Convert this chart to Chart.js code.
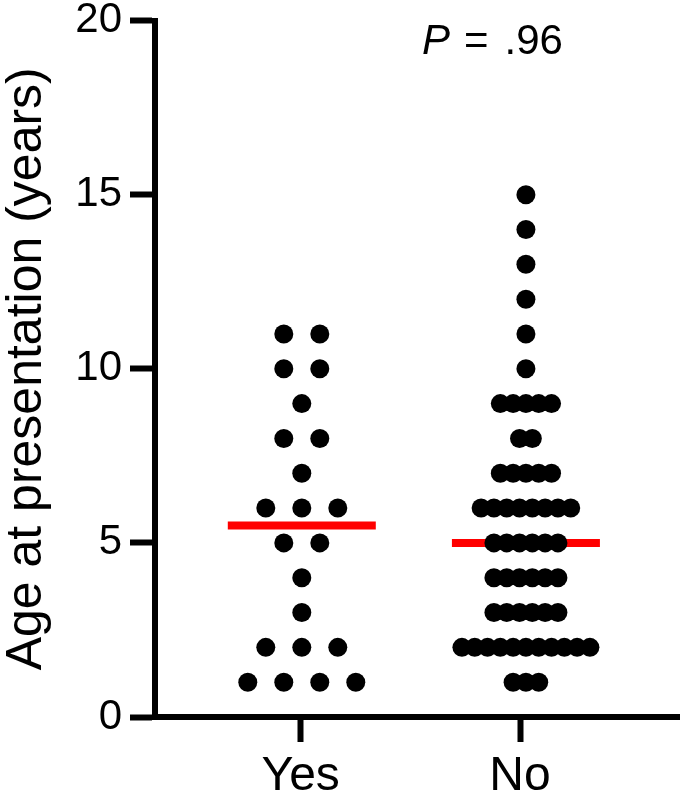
<!DOCTYPE html>
<html lang="en">
<head>
    <meta charset="UTF-8">
    <title>Age at presentation</title>
    <script src="https://cdn.jsdelivr.net/npm/chart.js"></script>
    <style>
        body {
            margin: 0;
            background: #fff;
        }
        .chart-container {
            width: 680px;
            height: 800px;
        }
    </style>
</head>
<body>
    <div class="chart-container">
        <canvas id="ageChart"></canvas>
    </div>
    <script>
        const groups = ['Yes', 'No'];
        const yesAges = [11, 11, 10, 10, 9, 8, 8, 7, 6, 6, 6, 5, 5, 4, 3, 2, 2, 2, 1, 1, 1, 1];
        const noAges = [15, 14, 13, 12, 11, 10,
            9, 9, 9, 9, 9, 8, 8,
            7, 7, 7, 7, 7,
            6, 6, 6, 6, 6, 6, 6, 6,
            5, 5, 5, 5, 5, 5,
            4, 4, 4, 4, 4, 4,
            3, 3, 3, 3, 3, 3,
            2, 2, 2, 2, 2, 2, 2, 2, 2, 2, 2,
            1, 1, 1];
        const medians = [5.5, 5];
        const yTicks = [0, 5, 10, 15, 20];
        const pLabel = '.96';

        const FONT = '"Liberation Sans", Arial, sans-serif';
        const PX_PER_X = 219.3;
        // dot spacing (px) and slight centre shift for each column
        const dotGap = [36, 12.8];
        const colShift = [0.005, 0.027];

        // lay out the dots of one column side by side, per value
        function swarm(values, col) {
            const counts = {};
            values.forEach(v => counts[v] = (counts[v] || 0) + 1);
            const seen = {};
            return values.map(v => {
                const i = seen[v] = (seen[v] === undefined ? 0 : seen[v] + 1);
                const off = (i - (counts[v] - 1) / 2) * dotGap[col] / PX_PER_X;
                return { x: col + 1 + colShift[col] + off, y: v };
            });
        }

        function medianLine(col) {
            const half = 74 / PX_PER_X;
            const c = col + 1 + colShift[col];
            return [{ x: c - half, y: medians[col] }, { x: c + half, y: medians[col] }];
        }

        const pValuePlugin = {
            id: 'pValue',
            afterDraw(chart) {
                const ctx = chart.ctx;
                let x = chart.scales.x.getPixelForValue(1.553);
                const y = chart.scales.y.getPixelForValue(19.05);
                ctx.save();
                ctx.fillStyle = '#000';
                ctx.textBaseline = 'alphabetic';
                ctx.font = 'italic 42px ' + FONT;
                ctx.fillText('P', x, y);
                x += ctx.measureText('P').width + 14;
                ctx.font = '42px ' + FONT;
                ctx.fillText('=', x, y);
                x += ctx.measureText('=').width + 16;
                ctx.fillText(pLabel, x, y);
                ctx.restore();
            }
        };

        const ctx = document.getElementById('ageChart').getContext('2d');
        new Chart(ctx, {
            type: 'scatter',
            data: {
                datasets: [
                    { data: swarm(yesAges, 0), backgroundColor: '#000', borderWidth: 0, pointRadius: 9.5, order: 0 },
                    { data: swarm(noAges, 1), backgroundColor: '#000', borderWidth: 0, pointRadius: 9.5, order: 0 },
                    { type: 'line', data: medianLine(0), borderColor: '#ff0000', borderWidth: 8, pointRadius: 0, order: 1 },
                    { type: 'line', data: medianLine(1), borderColor: '#ff0000', borderWidth: 8, pointRadius: 0, order: 1 }
                ]
            },
            options: {
                responsive: true,
                maintainAspectRatio: false,
                animation: false,
                layout: { autoPadding: false, padding: { top: 18, right: 0, left: 0, bottom: 0 } },
                plugins: { legend: { display: false }, tooltip: { enabled: false } },
                scales: {
                    x: {
                        type: 'linear',
                        min: 1 - 145.7 / PX_PER_X,
                        max: 2 + 160 / PX_PER_X,
                        afterBuildTicks: axis => { axis.ticks = groups.map((g, i) => ({ value: i + 1 })); },
                        afterFit: axis => { axis.height = 83; },
                        border: { display: true, color: '#000', width: 6 },
                        grid: { drawOnChartArea: false, drawTicks: true, tickLength: 25, tickWidth: 6, tickColor: '#000' },
                        ticks: {
                            autoSkip: false,
                            maxRotation: 0,
                            padding: 6,
                            color: '#000',
                            font: { family: FONT, size: 48 },
                            callback: v => groups[Math.round(v) - 1]
                        }
                    },
                    y: {
                        min: 0,
                        max: 20,
                        afterBuildTicks: axis => { axis.ticks = yTicks.map(v => ({ value: v })); },
                        afterFit: axis => { axis.width = 155; },
                        border: { display: true, color: '#000', width: 6 },
                        grid: { drawOnChartArea: false, drawTicks: true, tickLength: 25, tickWidth: 6, tickColor: '#000' },
                        ticks: {
                            padding: 8,
                            color: '#000',
                            font: { family: FONT, size: 42, lineHeight: 0.6 }
                        },
                        title: {
                            display: true,
                            text: 'Age at presentation (years)',
                            color: '#000',
                            padding: 2,
                            font: { family: FONT, size: 50, lineHeight: 1.0 }
                        }
                    }
                }
            },
            plugins: [pValuePlugin]
        });
    </script>
</body>
</html>
